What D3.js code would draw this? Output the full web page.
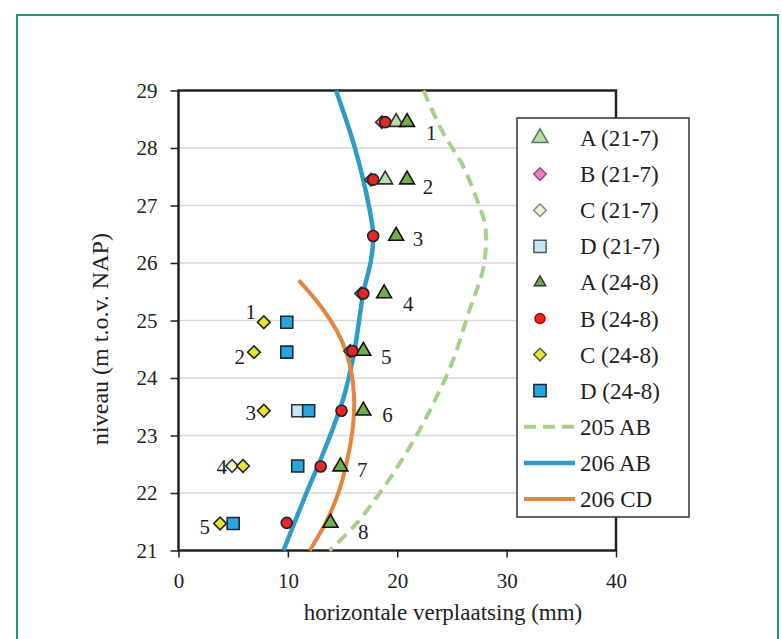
<!DOCTYPE html>
<html>
<head>
<meta charset="utf-8">
<script src="https://cdn.jsdelivr.net/npm/d3@7"></script>
<style>
  body { margin: 0; background: #fff; }
  text { font-family: "Liberation Serif", "Times New Roman", serif; fill: #222; }
</style>
</head>
<body>
<svg id="chart" width="782" height="639"></svg>
<script>
// levels (m t.o.v. NAP) of the measuring points
const levelsAB = [28.45, 27.45, 26.47, 25.47, 24.47, 23.43, 22.46, 21.48];
const levelsCD = [24.97, 24.45, 23.43, 22.47, 21.47];

// horizontal displacement (mm), null = not visible
const a21_7 = [19.9, 18.9, null, null, null, null, null, null];
const b21_7 = [18.6, 17.6, null, 16.7, 15.7, null, null, null];
const a24_8 = [20.9, 20.9, 19.9, 18.8, 16.9, 16.9, 14.8, 13.9];
const b24_8 = [18.9, 17.8, 17.8, 16.9, 15.9, 14.9, 13.0, 9.9];
const c21_7 = [null, null, null, 4.9, null];
const d21_7 = [null, null, 10.9, null, null];
const c24_8 = [7.8, 6.9, 7.8, 5.9, 3.8];
const d24_8 = [9.9, 9.9, 11.9, 10.9, 5.0];

// calculated curves [mm, level]
const curve205AB = [[22.4, 29], [24.2, 28.26], [25.9, 27.73], [27.2, 27.15], [28.0, 26.69], [28.1, 26.28], [27.8, 25.85],
  [26.6, 25.18], [25.1, 24.31], [23.0, 23.44], [20.8, 22.69], [18.4, 22.0], [16.0, 21.41], [13.8, 21]];
const curve206AB = [[14.4, 29], [16.1, 28.02], [17.4, 27.0], [17.8, 26.49], [17.6, 26.05], [16.9, 25.48], [16.1, 24.49],
  [15.2, 23.73], [14.4, 23.27], [13.1, 22.63], [11.7, 22.0], [9.6, 21]];
const curve206CD = [[11.0, 25.7], [12.5, 25.38], [13.9, 25.02], [15.0, 24.65], [15.8, 24.2], [16.1, 23.7], [16.05, 23.2],
  [15.5, 22.6], [14.7, 22.0], [13.5, 21.47], [12.0, 21]];

// point number labels [mm, level]
const labelsAB = [[23.1, 28.26], [22.8, 27.32], [21.9, 26.42], [21.0, 25.30], [19.0, 24.37], [19.1, 23.36], [16.8, 22.41], [16.9, 21.32]];
const labelsCD = [[6.6, 25.15], [5.6, 24.37], [6.6, 23.39], [3.95, 22.46], [2.4, 21.42]];

const xTicks = [0, 10, 20, 30, 40];
const yTicks = [21, 22, 23, 24, 25, 26, 27, 28, 29];
const legendNames = ["A (21-7)", "B (21-7)", "C (21-7)", "D (21-7)", "A (24-8)", "B (24-8)", "C (24-8)", "D (24-8)", "205 AB", "206 AB", "206 CD"];

const svg = d3.select("#chart");
const plotLeft = 178.5, plotRight = 616, plotTop = 90.5, plotBottom = 550.5;
const x = d3.scaleLinear().domain([0, 40]).range([plotLeft, plotRight]);
const y = d3.scaleLinear().domain([21, 29]).range([plotBottom, plotTop]);

// outer green frame
svg.append("rect").attr("x", 17).attr("y", 15).attr("width", 761).attr("height", 640)
  .attr("fill", "none").attr("stroke", "#1c9a6b").attr("stroke-width", 2);

// gridlines
svg.append("g").selectAll("line").data(yTicks.slice(1, -1)).enter().append("line")
  .attr("x1", plotLeft).attr("x2", plotRight).attr("y1", d => y(d)).attr("y2", d => y(d))
  .attr("stroke", "#d9d9d9").attr("stroke-width", 1.5);

// plot frame
svg.append("rect").attr("x", plotLeft).attr("y", plotTop).attr("width", plotRight - plotLeft).attr("height", plotBottom - plotTop)
  .attr("fill", "none").attr("stroke", "#222").attr("stroke-width", 2.5);

const xAxis = svg.append("g").attr("transform", "translate(0," + plotBottom + ")")
  .call(d3.axisBottom(x).tickValues(xTicks).tickSize(7).tickPadding(16));
const yAxis = svg.append("g").attr("transform", "translate(" + plotLeft + ",0)")
  .call(d3.axisLeft(y).tickValues(yTicks).tickSize(8).tickPadding(13));
[xAxis, yAxis].forEach(function (a) {
  a.select(".domain").remove();
  a.selectAll("line").attr("stroke", "#222").attr("stroke-width", 1.5);
  a.selectAll("text").style("font-family", "Liberation Serif, serif").style("font-size", "21px").attr("fill", "#222");
});

svg.append("text").attr("x", 443).attr("y", 620).attr("text-anchor", "middle").style("font-size", "23px")
  .text("horizontale verplaatsing (mm)");
svg.append("text").attr("transform", "translate(108,339) rotate(-90)").attr("text-anchor", "middle").style("font-size", "24px")
  .text("niveau (m t.o.v. NAP)");

// curves
const line = d3.line().x(d => x(d[0])).y(d => y(d[1])).curve(d3.curveCatmullRom);
const smoothLine = d3.line().x(d => x(d[0])).y(d => y(d[1])).curve(d3.curveBasis);
svg.append("path").attr("d", line(curve205AB)).attr("fill", "none").attr("stroke", "#a8d08d").attr("stroke-width", 4).attr("stroke-dasharray", "12,7");
svg.append("path").attr("d", line(curve206AB)).attr("fill", "none").attr("stroke", "#2f9cc4").attr("stroke-width", 4.5);
svg.append("path").attr("d", smoothLine(curve206CD)).attr("fill", "none").attr("stroke", "#e5843f").attr("stroke-width", 4);

// marker styles
const styles = {
  a21: {type: d3.symbolTriangle, size: 95, fill: "#b9dcaa", stroke: "#333", legendStroke: "#5a7a5a", legendSize: 110},
  b21: {type: "diamond", size: 80, fill: "#ea7fc0", stroke: "#333", legendStroke: "#9a4a7a", legendSize: 80},
  c21: {type: "diamond", size: 80, fill: "#f2f5c8", stroke: "#333", legendStroke: "#888", legendSize: 80},
  d21: {type: d3.symbolSquare, size: 144, fill: "#c7e6f4", stroke: "#333", legendStroke: "#556", legendSize: 150},
  a24: {type: d3.symbolTriangle, size: 95, fill: "#6fae4a", stroke: "#111", legendStroke: "#333", legendSize: 55},
  b24: {type: d3.symbolCircle, size: 95, fill: "#e52727", stroke: "#222", legendStroke: "#b00", legendSize: 80},
  c24: {type: "diamond", size: 80, fill: "#e8e62a", stroke: "#222", legendStroke: "#555", legendSize: 80},
  d24: {type: d3.symbolSquare, size: 144, fill: "#2aa6df", stroke: "#1b2b3b", legendStroke: "#1b2b3b", legendSize: 150}
};
function symbolPath(st, size) {
  if (st.type === "diamond") return d3.symbol().type(d3.symbolSquare).size(size)();
  return d3.symbol().type(st.type).size(size)();
}
function drawSeries(values, levels, st) {
  const pts = values.map((v, i) => [v, levels[i]]).filter(d => d[0] !== null);
  svg.append("g").selectAll("path").data(pts).enter().append("path")
    .attr("d", symbolPath(st, st.size))
    .attr("transform", d => "translate(" + x(d[0]) + "," + y(d[1]) + ")" + (st.type === "diamond" ? " rotate(45)" : ""))
    .attr("fill", st.fill).attr("stroke", st.stroke).attr("stroke-width", 1.6);
}
drawSeries(a21_7, levelsAB, styles.a21);
drawSeries(b21_7, levelsAB, styles.b21);
drawSeries(c21_7, levelsCD, styles.c21);
drawSeries(d21_7, levelsCD, styles.d21);
drawSeries(a24_8, levelsAB, styles.a24);
drawSeries(b24_8, levelsAB, styles.b24);
drawSeries(c24_8, levelsCD, styles.c24);
drawSeries(d24_8, levelsCD, styles.d24);

// point numbers
svg.append("g").selectAll("text").data(labelsAB.concat(labelsCD)).enter().append("text")
  .attr("x", d => x(d[0])).attr("y", d => y(d[1])).attr("dy", "0.35em").attr("text-anchor", "middle")
  .style("font-size", "21px").attr("fill", "#333")
  .text((d, i) => i < labelsAB.length ? i + 1 : i - labelsAB.length + 1);

// legend
const lg = svg.append("g");
lg.append("rect").attr("x", 517).attr("y", 118).attr("width", 172).attr("height", 399)
  .attr("fill", "#fff").attr("stroke", "#333").attr("stroke-width", 1.5);
const rowY = d3.scaleLinear().domain([0, 10]).range([138, 499]);
const legendStyles = [styles.a21, styles.b21, styles.c21, styles.d21, styles.a24, styles.b24, styles.c24, styles.d24];
legendStyles.forEach(function (st, i) {
  lg.append("path").attr("d", symbolPath(st, st.legendSize))
    .attr("transform", "translate(540," + rowY(i) + ")" + (st.type === "diamond" ? " rotate(45)" : ""))
    .attr("fill", st.fill).attr("stroke", st.legendStroke).attr("stroke-width", 1.5);
});
const legendLines = [
  {stroke: "#a8d08d", width: 4, dash: "12,7"},
  {stroke: "#2f9cc4", width: 4.5, dash: null},
  {stroke: "#e5843f", width: 4, dash: null}
];
legendLines.forEach(function (l, i) {
  lg.append("line").attr("x1", 524).attr("x2", 575).attr("y1", rowY(8 + i)).attr("y2", rowY(8 + i))
    .attr("stroke", l.stroke).attr("stroke-width", l.width).attr("stroke-dasharray", l.dash);
});
lg.selectAll("text.leg").data(legendNames).enter().append("text").attr("class", "leg")
  .attr("x", 580).attr("y", (d, i) => rowY(i)).attr("dy", "0.35em")
  .style("font-size", "23px").text(d => d);
</script>
</body>
</html>
